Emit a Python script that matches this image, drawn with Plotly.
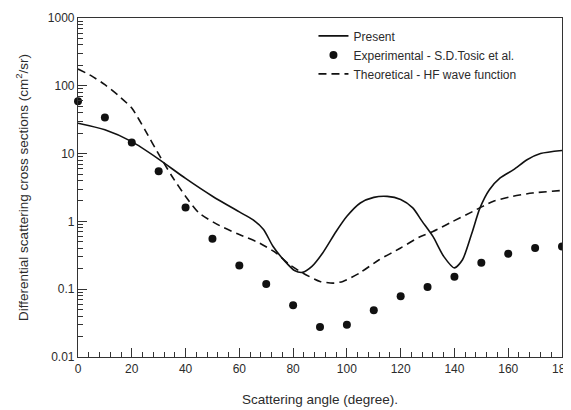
import plotly.graph_objects as go

# ---- data ----
angle_present = [0, 10, 20, 30, 40, 50, 60, 65, 69, 72.5, 77, 80.5, 83.5, 87, 91, 96, 100, 105,
                 110, 115, 120, 124.5, 128, 132, 136, 140, 143, 146.5, 149.5, 153, 157, 162,
                 167, 172, 180]
present = [28, 22.4, 15, 8.3, 4.3, 2.35, 1.38, 1.06, 0.76, 0.43, 0.257, 0.189, 0.177, 0.217,
           0.342, 0.71, 1.19, 1.87, 2.26, 2.34, 2.1, 1.58, 1.0, 0.6, 0.305, 0.206, 0.272,
           0.675, 1.58, 2.93, 4.37, 5.8, 8.1, 10, 11.1]

angle_exp = [0, 10, 20, 30, 40, 50, 60, 70, 80, 90, 100, 110, 120, 130, 140, 150, 160, 170, 180]
experimental = [59, 34, 14.6, 5.5, 1.6, 0.556, 0.224, 0.119, 0.058, 0.0277, 0.030, 0.049,
                0.079, 0.108, 0.153, 0.246, 0.334, 0.405, 0.428]

angle_theory = [0, 5, 10, 15, 20, 25, 30, 35, 40, 45, 52.7, 60, 67.5, 73.7, 78.7, 83.6, 90, 95,
                98.5, 104.7, 112, 120, 127, 132, 139.4, 146.8, 154.3, 161.7, 169, 180]
theory = [177, 140, 104, 72, 47, 22, 9.8, 4.6, 2.34, 1.33, 0.865, 0.64, 0.48, 0.342, 0.23,
          0.173, 0.13, 0.123, 0.13, 0.173, 0.272, 0.405, 0.59, 0.71, 1.0, 1.4, 1.97, 2.34,
          2.62, 2.86]

y_tickvals = [0.01, 0.1, 1, 10, 100, 1000]
y_ticktext = ["0.01", "0.1", "1", "10", "100", "1000"]
x_tickvals = [0, 20, 40, 60, 80, 100, 120, 140, 160, 180]

FONT = "Liberation Sans, Arial, sans-serif"
INK = "#111111"
TXT = "#2b2b2b"

y_minor = [m * 10 ** e for e in range(-2, 3) for m in range(2, 10)]

fig = go.Figure()
fig.add_trace(go.Scatter(x=angle_present, y=present, mode="lines", name="Present",
                         line=dict(color=INK, width=1.6, shape="spline", smoothing=0.7)))
fig.add_trace(go.Scatter(x=angle_exp, y=experimental, mode="markers",
                         name="Experimental - S.D.Tosic et al.",
                         marker=dict(color=INK, size=8, symbol="circle"),
                         cliponaxis=False))
fig.add_trace(go.Scatter(x=angle_theory, y=theory, mode="lines",
                         name="Theoretical - HF wave function",
                         line=dict(color=INK, width=1.6, dash="8px,5px", shape="spline",
                                   smoothing=0.6)))

# page body has an 8px default margin, so the figure is sized/offset to compensate
fig.update_layout(
    width=563, height=402,
    margin=dict(l=70, r=9, t=10, b=53),
    paper_bgcolor="white", plot_bgcolor="white",
    font=dict(family=FONT, size=12, color=TXT),
    showlegend=True,
    legend=dict(x=0.4865, y=0.99, xanchor="left", yanchor="top",
                bgcolor="rgba(0,0,0,0)", font=dict(size=12, color=TXT),
                tracegroupgap=0, itemwidth=30),
    xaxis=dict(range=[-0.0005, 180.0005], showgrid=False, zeroline=False, automargin=False,
               showline=True, linecolor="#333", linewidth=1.2, mirror=True,
               ticks="inside", ticklen=9, tickwidth=1, tickcolor="#333",
               tickvals=x_tickvals, tickfont=dict(size=12, color=TXT),
               ticklabeloverflow="allow",
               minor=dict(ticks="inside", ticklen=5, tickwidth=1, tickcolor="#333", dtick=4),
               title=dict(text="Scattering angle (degree).", font=dict(size=13.5, color=TXT),
                          standoff=20)),
    yaxis=dict(type="log", range=[-2, 3], showgrid=False, zeroline=False, automargin=False,
               showline=True, linecolor="#333", linewidth=1.2, mirror=True,
               ticks="inside", ticklen=9, tickwidth=1, tickcolor="#333",
               tickvals=y_tickvals, ticktext=y_ticktext, tickfont=dict(size=12, color=TXT),
               minor=dict(ticks="inside", ticklen=5, tickwidth=1, tickcolor="#333",
                          tickvals=y_minor),
               title=dict(text="Differential scattering cross sections (cm<sup>2</sup>/sr)",
                          font=dict(size=13.5, color=TXT), standoff=16)),
)

fig.write_html("out.html")
